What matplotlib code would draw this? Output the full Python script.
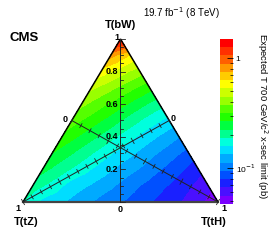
import numpy as np
import matplotlib
matplotlib.use("Agg")
import matplotlib.pyplot as plt
import matplotlib.tri as mtri
from matplotlib.colors import ListedColormap, BoundaryNorm

plt.rcParams['font.family'] = ['Liberation Sans', 'DejaVu Sans']

# ---- data: expected limit (pb) on a grid of branching fractions ----
bw_values = [0.0, 0.1, 0.2, 0.3, 0.4, 0.5, 0.6, 0.7, 0.8, 0.9, 1.0]
# each row: BR(bW) fixed, BR(tH) = 0.0, 0.1, ... up to 1 - BR(bW)
limit_rows = [
    [0.185, 0.150, 0.135, 0.120, 0.105, 0.095, 0.085, 0.075, 0.067, 0.058, 0.050],
    [0.205, 0.175, 0.145, 0.130, 0.115, 0.100, 0.088, 0.078, 0.068, 0.058],
    [0.235, 0.200, 0.170, 0.145, 0.125, 0.110, 0.095, 0.082, 0.070],
    [0.265, 0.225, 0.190, 0.160, 0.138, 0.118, 0.102, 0.088],
    [0.300, 0.255, 0.215, 0.180, 0.152, 0.130, 0.112],
    [0.340, 0.290, 0.245, 0.205, 0.172, 0.148],
    [0.390, 0.330, 0.280, 0.235, 0.200],
    [0.460, 0.390, 0.330, 0.280],
    [0.580, 0.480, 0.400],
    [0.800, 0.620],
    [1.400],
]
th_step = 0.1

# colour scale (log levels) and palette
z_min, z_max = 0.047, 1.49
n_levels = 20
band_colors = ['#7a00ff', '#4a10ff', '#1a20ff', '#0050ff', '#0080ff',
               '#00aaff', '#00ddff', '#00ffdd', '#00ff90', '#00ff40',
               '#22ff00', '#55ff00', '#99ff00', '#ccff00', '#ffff00',
               '#ffcc00', '#ff9900', '#ff6000', '#ff3000', '#ff0000']

W, H = 274, 243
fig = plt.figure(figsize=(W / 100, H / 100), dpi=100)

def fx(px):
    return px / W

def fy(py):
    return 1 - py / H

# triangle axes: x = tH + 0.5*bW, y = bW
x0, x1, ytop, ybot = 23, 218, 39, 202
ax = fig.add_axes([fx(x0), fy(ybot), (x1 - x0) / W, (ybot - ytop) / H])
ax.set_xlim(0, 1)
ax.set_ylim(0, 1)
ax.axis('off')
sx, sy = (x1 - x0), (ybot - ytop)

xs, ys, zs = [], [], []
for bw, row in zip(bw_values, limit_rows):
    for j, val in enumerate(row):
        th = j * th_step
        xs.append(th + 0.5 * bw)
        ys.append(bw)
        zs.append(val)
xs, ys, zs = np.array(xs), np.array(ys), np.array(zs)

levels = np.logspace(np.log10(z_min), np.log10(z_max), n_levels + 1)
cmap = ListedColormap(band_colors)
norm = BoundaryNorm(np.log10(levels), cmap.N)
tri = mtri.Triangulation(xs, ys)
ax.tricontourf(tri, np.log10(zs), levels=np.log10(levels), cmap=cmap, norm=norm)

# triangle outline
ax.plot([0, 0.5, 1], [0, 1, 0], color='black', lw=1.1, clip_on=False, solid_joinstyle='miter')
ax.plot([0, 1], [0, 0], color='#444444', lw=1.6, clip_on=False)

axcol = '#222222'
# vertical bW axis
ax.plot([0.5, 0.5], [0, 1], color=axcol, lw=0.7, clip_on=False)
for k in range(0, 21):
    v = k * 0.05
    L = 5 if k % 4 == 0 else 2.5
    ax.plot([0.5, 0.5 + L / sx], [v, v], color=axcol, lw=0.6, clip_on=False)
for v in [0.2, 0.4, 0.6, 0.8]:
    fig.text(fx(118.5), fy(ybot - v * sy), f'{v:.1f}', ha='right', va='center',
             fontsize=6.5, fontweight='bold')

# diagonal axes
def diag_axis(p_start, p_end, ndiv):
    (xa, ya), (xb, yb) = p_start, p_end
    ax.plot([xa, xb], [ya, yb], color=axcol, lw=0.7, clip_on=False)
    dxp, dyp = (xb - xa) * sx, (yb - ya) * sy
    Lp = np.hypot(dxp, dyp)
    nx, ny = -dyp / Lp, dxp / Lp
    for k in range(ndiv + 1):
        t = k / ndiv
        cx, cy = xa + t * (xb - xa), ya + t * (yb - ya)
        h = 3.0 if k % 4 == 0 else 2.2
        ax.plot([cx - h * nx / sx, cx + h * nx / sx], [cy - h * ny / sy, cy + h * ny / sy],
                color=axcol, lw=0.6, clip_on=False)

diag_axis((0.0, 0.0), (0.75, 0.5), 16)
diag_axis((1.0, 0.0), (0.25, 0.5), 16)

# axis end labels
lab = dict(fontsize=6.5, fontweight='bold', ha='center', va='center')
fig.text(fx(116.5), fy(38), '1', **lab)
fig.text(fx(120.5), fy(209), '0', **lab)
fig.text(fx(17.5), fy(208), '1', **lab)
fig.text(fx(224), fy(208), '1', **lab)
fig.text(fx(65), fy(119), '0', **lab)
fig.text(fx(173.5), fy(118), '0', **lab)

vl = dict(fontsize=8, fontweight='bold', ha='center', va='center')
fig.text(fx(120.5), fy(25), 'T(bW)', **vl)
fig.text(fx(26.5), fy(222), 'T(tZ)', **vl)
fig.text(fx(214), fy(222), 'T(tH)', **vl)

fig.text(fx(9.5), fy(38), 'CMS', fontsize=9.5, fontweight='bold', ha='left', va='center')
fig.text(fx(143), fy(13), '19.7 fb$^{-1}$ (8 TeV)', fontsize=7, ha='left', va='center')

# colour bar
cax = fig.add_axes([fx(220), fy(204), 13 / W, 165 / H])
cax.pcolormesh([0, 1], levels, np.arange(n_levels).reshape(-1, 1), cmap=cmap,
               norm=BoundaryNorm(np.arange(n_levels + 1) - 0.5, n_levels))
cax.set_yscale('log')
cax.set_ylim(z_min, z_max)
cax.set_xlim(0, 1)
cax.set_xticks([])
cax.yaxis.tick_right()
cax.set_yticks([0.1, 1])
cax.set_yticklabels(['10$^{-1}$', '1'])
cax.set_yticks([v * 0.01 for v in range(5, 10)] + [v * 0.1 for v in range(2, 10)], minor=True)
cax.yaxis.set_minor_formatter(matplotlib.ticker.NullFormatter())
cax.tick_params(axis='y', which='major', direction='in', length=4, width=0.6, labelsize=6, pad=2)
cax.tick_params(axis='y', which='minor', direction='in', length=2, width=0.5)
for s in cax.spines.values():
    s.set_visible(False)
fig.text(fx(262), fy(116), 'Expected T 700 GeV/c$^{2}$ x-sec limit (pb)', fontsize=6.8,
         rotation=270, ha='center', va='center')

fig.savefig('out.png', dpi=100)
